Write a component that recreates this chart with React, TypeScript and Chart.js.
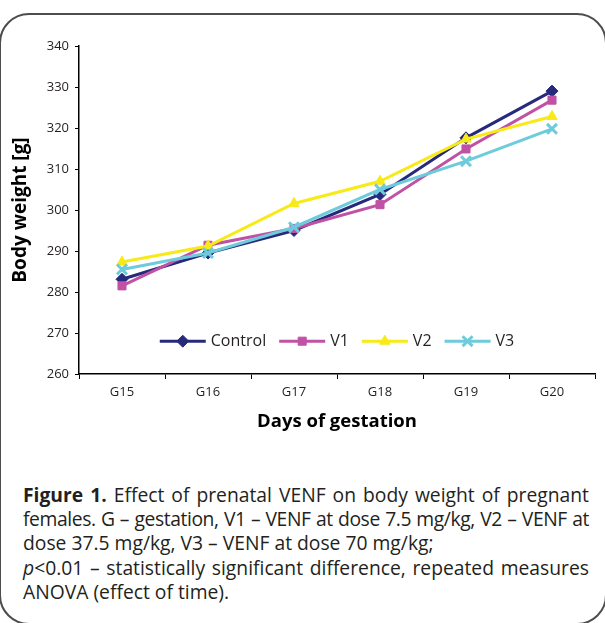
import React, { useEffect, useRef } from "react";
import { Chart, registerables } from "chart.js";
import { drawPoint } from "chart.js/helpers";

Chart.register(...registerables);

const categories = ["G15", "G16", "G17", "G18", "G19", "G20"];
const seriesNames = ["Control", "V1", "V2", "V3"];
const controlValues = [283.1, 289.5, 295.0, 303.8, 317.6, 329.0];
const v1Values = [281.5, 291.4, 295.5, 301.3, 314.9, 326.8];
const v2Values = [287.3, 291.2, 301.6, 307.0, 317.3, 322.8];
const v3Values = [285.5, 289.5, 295.8, 305.0, 311.9, 319.8];
const yMin = 260;
const yMax = 340;
const yStep = 10;
const xTitle = "Days of gestation";
const yTitle = "Body weight [g]";

const FONT = "'Open Sans', sans-serif";

const lineLegend = {
  id: "lineLegend",
  afterDraw(chart: any) {
    const { ctx, chartArea } = chart;
    const dsets = chart.data.datasets;
    ctx.save();
    ctx.font = `16px ${FONT}`;
    const lineLen = 46;
    const gap = 5;
    const itemGap = 13;
    const widths = dsets.map((d: any) => lineLen + gap + ctx.measureText(d.label).width);
    const total = widths.reduce((a: number, b: number) => a + b, 0) + itemGap * (dsets.length - 1);
    let x = (chartArea.left + chartArea.right) / 2 - total / 2;
    const y = chartArea.top + (chartArea.bottom - chartArea.top) * 0.9;
    dsets.forEach((d: any, i: number) => {
      ctx.strokeStyle = d.borderColor;
      ctx.lineWidth = 3;
      ctx.beginPath();
      ctx.moveTo(x, y);
      ctx.lineTo(x + lineLen, y);
      ctx.stroke();
      ctx.fillStyle = d.borderColor;
      ctx.lineWidth = d.pointBorderWidth;
      drawPoint(ctx, { pointStyle: d.pointStyle, radius: d.pointRadius, borderWidth: d.pointBorderWidth, rotation: 0 } as any, x + lineLen / 2, y);
      ctx.fillStyle = "#231f20";
      ctx.textAlign = "left";
      ctx.textBaseline = "middle";
      ctx.fillText(d.label, x + lineLen + gap, y);
      x += widths[i] + itemGap;
    });
    ctx.restore();
  },
};

function ChartView() {
  const ref = useRef<HTMLCanvasElement | null>(null);
  useEffect(() => {
    if (!ref.current) return;
    const colors = ["#27297b", "#c052a5", "#f7ea16", "#6dcbdc"];
    const values = [controlValues, v1Values, v2Values, v3Values];
    const styles = ["rectRot", "rect", "triangle", "crossRot"];
    const radii = [6, 5.7, 6, 7];
    const pbw = [1, 1, 1, 3];
    const orders = [4, 3, 2, 1];
    const chart = new Chart(ref.current, {
      type: "line",
      data: {
        labels: categories,
        datasets: seriesNames.map((name, i) => ({
          label: name,
          data: values[i],
          borderColor: colors[i],
          backgroundColor: colors[i],
          pointBackgroundColor: colors[i],
          pointBorderColor: colors[i],
          pointStyle: styles[i],
          pointRadius: radii[i],
          pointHoverRadius: radii[i],
          pointBorderWidth: pbw[i],
          borderWidth: 3,
          tension: 0,
          order: orders[i],
        })),
      },
      options: {
        responsive: false,
        animation: false,
        devicePixelRatio: 1,
        layout: { padding: { top: 46, right: 0, bottom: 16, left: 0 } },
        plugins: {
          legend: { display: false },
          tooltip: { enabled: false },
          title: { display: false },
        },
        scales: {
          x: {
            type: "category",
            offset: true,
            grid: {
              offset: true,
              drawOnChartArea: false,
              drawTicks: true,
              tickLength: 5,
              color: "#000",
              lineWidth: 1,
            },
            border: { color: "#000", width: 1.5 },
            ticks: { color: "#231f20", font: { family: FONT, size: 13 }, padding: 5, maxRotation: 0, autoSkip: false },
            title: {
              display: true,
              text: xTitle,
              color: "#000",
              font: { family: FONT, size: 18.5, weight: "bold" },
              padding: { top: 0, bottom: 1 },
            },
            afterFit(scale: any) {
              scale.height = 60;
            },
          },
          y: {
            min: yMin,
            max: yMax,
            grid: {
              drawOnChartArea: false,
              drawTicks: true,
              tickLength: 4,
              color: "#000",
              lineWidth: 1,
            },
            border: { color: "#000", width: 1.5 },
            ticks: { stepSize: yStep, color: "#231f20", font: { family: FONT, size: 13 }, padding: 6 },
            title: {
              display: true,
              text: yTitle,
              color: "#000",
              font: { family: FONT, size: 19, weight: "bold" },
              padding: { top: 9, bottom: 0 },
            },
            afterFit(scale: any) {
              scale.width = 79;
            },
          },
        },
      },
      plugins: [lineLegend],
    } as any);
    return () => chart.destroy();
  }, []);
  return <canvas ref={ref} width={605} height={450} style={{ position: "absolute", left: 0, top: 0, width: 605, height: 450 }} />;
}

const captionLine: React.CSSProperties = {
  textAlign: "justify",
  textAlignLast: "justify" as any,
  whiteSpace: "nowrap",
};

export default function App() {
  return (
    <div style={{ position: "absolute", left: 0, top: 0, width: 605, height: 623, overflow: "hidden", background: "#fff" }}>
      <div
        style={{
          position: "absolute",
          left: -1,
          top: 13,
          width: 608,
          height: 612,
          boxSizing: "border-box",
          border: "2px solid #4d4d4d",
          borderRadius: 30,
        }}
      />
      <ChartView />
      <div
        style={{
          position: "absolute",
          left: 23,
          top: 483,
          width: 566,
          fontFamily: FONT,
          fontSize: 19.3,
          lineHeight: "24.2px",
          color: "#231f20",
        }}
      >
        <div style={captionLine}>
          <b>Figure 1.</b> Effect of prenatal VENF on body weight of pregnant
        </div>
        <div style={{ ...captionLine, letterSpacing: "-0.4px", wordSpacing: "-3px" }}>
          females. G – gestation, V1 – VENF at dose 7.5 mg/kg, V2 – VENF at
        </div>
        <div>dose 37.5 mg/kg, V3 – VENF at dose 70 mg/kg;</div>
        <div style={captionLine}>
          <i>p</i>&lt;0.01 – statistically significant difference, repeated measures
        </div>
        <div>ANOVA (effect of time).</div>
      </div>
    </div>
  );
}
